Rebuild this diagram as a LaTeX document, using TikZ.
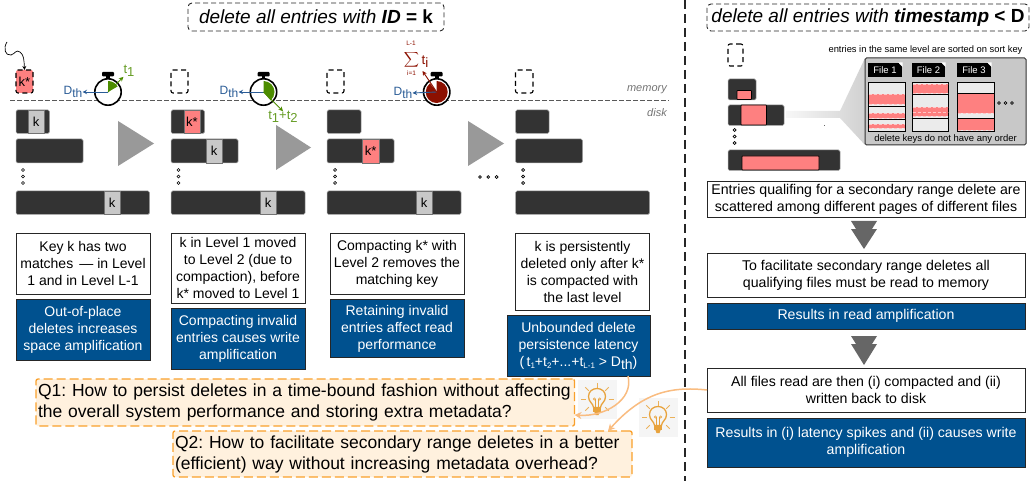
\documentclass[tikz,border=0pt]{standalone}
\usepackage{fontspec}
\setmainfont{Liberation Sans}
\usetikzlibrary{arrows.meta}
\definecolor{bluec}{HTML}{00518F}
\definecolor{redc}{HTML}{FE8080}
\definecolor{barc}{HTML}{333333}
\definecolor{keyc}{HTML}{C8C8C8}
\definecolor{greenc}{HTML}{4C8C00}
\definecolor{dredc}{HTML}{8C1000}
\definecolor{dblue}{HTML}{2A5C96}
\definecolor{orc}{HTML}{F9A02B}
\definecolor{orl}{HTML}{F9BC80}
\definecolor{qfill}{HTML}{FFF1DE}
\definecolor{bulbc}{HTML}{E8A33D}
\definecolor{triang}{HTML}{999999}
\definecolor{arrc}{HTML}{666666}
\tikzset{
 base/.style={inner sep=0pt,outer sep=0pt,align=center},
 txtbox/.style={base,draw=black!85,fill=white,line width=.8pt,font=\fontsize{14}{17}\selectfont},
 bluebox/.style={base,draw=black!85,fill=bluec,text=white,line width=.8pt,font=\fontsize{14}{17}\selectfont},
 barbox/.style={base,draw=black!35,fill=barc,line width=.5pt,rounded corners=1.5pt},
 keybox/.style={base,draw=black!55,fill=keyc,line width=.8pt,font=\fontsize{13}{15}\selectfont},
 redkey/.style={base,draw=black!55,fill=redc,line width=.8pt,font=\fontsize{13}{15}\selectfont},
 redin/.style={base,draw=black,fill=redc,line width=.7pt,rounded corners=.6pt},
 membox/.style={base,draw=black,dash pattern=on 5pt off 3.5pt,line width=1.1pt,rounded corners=2pt,font=\fontsize{13}{15}\selectfont},
 titlebox/.style={base,draw=black!85,dash pattern=on 5pt off 3pt,line width=.9pt,rounded corners=4pt,font=\fontsize{19}{22}\selectfont},
 qbox/.style={base,draw=orc,fill=qfill,dash pattern=on 9pt off 4pt,line width=1.3pt,rounded corners=2pt,align=left,font=\fontsize{17.5}{21}\selectfont},
 tri/.style={fill=triang,draw=none},
 ring/.style={draw=black,fill=white,line width=1.6pt},
 minidot/.style={draw=black,fill=white,line width=.7pt},
 glabel/.style={inner sep=0pt,text=greenc!85!white,font=\fontsize{13}{15}\selectfont},
 dlabel/.style={inner sep=0pt,text=dblue,font=\fontsize{12}{14}\selectfont},
 rlabel/.style={inner sep=0pt,text=dredc,font=\fontsize{13.5}{15}\selectfont},
 filebox/.style={base,draw=black,fill=black!8,line width=.9pt},
 filetag/.style={base,fill=black,text=white,font=\fontsize{9.5}{11}\selectfont},
 orarrow/.style={draw=orl,line width=1.5pt,-{Stealth[length=7pt,width=7pt]}},
 clockarrow/.style={line width=.9pt,-{Stealth[length=4.5pt,width=4.5pt]}},
}
\newcommand{\bx}[7]{%
 \pgfmathsetmacro\myw{#4-#2}\pgfmathsetmacro\myh{#5-#3}%
 \pgfmathsetmacro\myx{(#2+#4)/2}\pgfmathsetmacro\myy{(#3+#5)/2}%
 \node[#6,minimum width=\myw pt,minimum height=\myh pt] (#1) at (\myx,\myy) {#7};}
\newcommand{\bnd}[4]{%
 \fill[redc] (#1,#2) rectangle (#3,#4);
 \draw[white!55!redc,dash pattern=on 3pt off 2pt,line width=.5pt] (#1,#2) -- (#3,#2) (#1,#4) -- (#3,#4);}
\newcommand{\tridots}[2]{%
 \foreach \d in {0,6.5,13}{\draw[minidot] (#1,#2+\d) circle (1.5pt);}}
\newcommand{\hordots}[3]{%
 \foreach \d in {0,1,2}{\draw[minidot] (#1+\d*#3,#2) circle (1.4pt);}}
\newcommand{\clock}[2]{%
 \fill[black,rounded corners=1pt] (#1-6,72) rectangle (#1+6,76.5);
 \fill[black] (#1-1.8,76) rectangle (#1+1.8,80);
 \fill[black] (#1-9.5,83) -- (#1-8,81.5) -- (#1-6.5,83) -- cycle;
 \fill[black] (#1+9.5,83) -- (#1+8,81.5) -- (#1+6.5,83) -- cycle;
 \draw[ring] (#1,#2) circle (13.2pt);}
\newcommand{\bulb}[2]{%
 \fill[black!4] (#1-19.5,#2-19) rectangle (#1+19.5,#2+20);
 \begin{scope}[shift={(#1,#2)}]
  \foreach \a in {0,45,90,135,180,-45,-135}{\draw[bulbc!85!white,line width=1pt] (\a:11.5pt) -- (\a:16.5pt);}
  \draw[bulbc,line width=1.3pt] (-3.4,8.5) .. controls (-4,4) and (-8.5,3) .. (-8.5,-2.5) .. controls (-8.5,-7.5) and (-4.5,-10.5) .. (0,-10.5) .. controls (4.5,-10.5) and (8.5,-7.5) .. (8.5,-2.5) .. controls (8.5,3) and (4,4) .. (3.4,8.5) -- cycle;
  \draw[bulbc,line width=.6pt] (-1.5,8) -- (-1.5,0) arc[start angle=0,end angle=360,radius=1.1pt];
  \draw[bulbc,line width=.6pt] (1.5,8) -- (1.5,0) arc[start angle=180,end angle=-180,radius=1.1pt];
  \fill[bulbc] (-4,9) rectangle (4,13);
  \fill[bulbc] (-2.6,13) -- (2.6,13) -- (1.5,16) -- (-1.5,16) -- cycle;
 \end{scope}}
\newcommand{\Dth}{D\raisebox{-3.5pt}{th}}
\frenchspacing
\begin{document}
\begin{tikzpicture}[x=1pt,y=-1pt]
\useasboundingbox (0,0) rectangle (1033,481);
% titles
\bx{title1}{188}{3}{444}{31}{titlebox}{\itshape delete all entries with \textbf{ID} \upshape\textbf{= k}}
\bx{title2}{707}{4}{1029}{31}{titlebox}{\itshape delete all entries with \textbf{timestamp} \upshape\textbf{< D}}
% separators
\coordinate (sepT) at (685,0);
\coordinate (sepB) at (685,481);
\draw[black!85,line width=1.3pt,dash pattern=on 9pt off 5pt] (sepT) -- (sepB);
\coordinate (memL) at (10,101);
\coordinate (memR) at (669,101);
\draw[black!65,line width=1pt,dash pattern=on 4.5pt off 2.5pt] (memL) -- (memR);
\node[inner sep=0pt,anchor=east,text=black!55,font=\itshape\fontsize{11}{12}\selectfont] (memlab) at (667,90) {memory};
\node[inner sep=0pt,anchor=east,text=black!55,font=\itshape\fontsize{11}{12}\selectfont] (disklab) at (667,113) {disk};
% column 1
\bx{m1}{16}{70}{33}{93}{membox,fill=redc}{k*}
\coordinate (sq) at (7,42);
\draw[black,line width=.7pt,-{Stealth[length=4pt,width=4pt]}] (sq) .. controls (3,48) and (5,56) .. (11,55) .. controls (15,54) and (16,49) .. (20,52) .. controls (24,55) and (24,60) .. (m1.north);
\bx{a1}{16}{110}{49.5}{133.5}{barbox}{}
\bx{a2}{16}{139}{83}{163}{barbox}{}
\bx{a3}{16}{191}{149.5}{214.5}{barbox}{}
\bx{ka1}{28}{110}{44}{133.5}{keybox}{k}
\bx{ka3}{104}{191}{120}{214.5}{keybox}{k}
\tridots{23}{170}
\fill[tri] (118,121) -- (118,166) -- (154,143.5) -- cycle;
% column 2
\bx{m2}{171}{70}{188}{93}{membox}{}
\bx{b1}{171}{110}{204.5}{133.5}{barbox}{}
\bx{b2}{171}{139}{238}{163}{barbox}{}
\bx{b3}{171}{191}{305}{214.5}{barbox}{}
\bx{kb1}{184}{110}{200}{133.5}{redkey}{k*}
\bx{kb2}{206}{139}{222}{163}{keybox}{k}
\bx{kb3}{260}{191}{276}{214.5}{keybox}{k}
\tridots{178.5}{170}
\fill[tri] (276,125) -- (276,170) -- (311,147.5) -- cycle;
% column 3
\bx{m3}{327}{70}{344}{93}{membox}{}
\bx{c1}{327}{110}{361}{133.5}{barbox}{}
\bx{c2}{327}{139}{394}{163}{barbox}{}
\bx{c3}{327}{191}{461}{214.5}{barbox}{}
\bx{kc2}{362.5}{139}{379}{163}{redkey}{k*}
\bx{kc3}{416}{191}{432}{214.5}{keybox}{k}
\tridots{335}{170}
\fill[tri] (468,121) -- (468,166) -- (504,143.5) -- cycle;
\hordots{480}{177}{8.3}
% column 4
\bx{m4}{515.5}{70}{533}{93}{membox}{}
\bx{d1}{515.5}{110}{549}{133.5}{barbox}{}
\bx{d2}{515.5}{139}{582.5}{163}{barbox}{}
\bx{d3}{515.5}{191}{649.5}{214.5}{barbox}{}
\tridots{523}{170}
% clock 1
\clock{108}{92}
\coordinate (w1) at (108,92);
\fill[greenc] (w1) -- ++(0,-11) arc[start angle=90,end angle=30,radius=11pt] -- cycle;
\node[dlabel] (dl1) at (73,92) {\Dth};
\node[glabel] (t1) at (129,71) {t\raisebox{-3pt}{1}};
\draw[dblue,clockarrow] (w1) -- (dl1.east);
\draw[greenc,clockarrow] (w1) -- (t1.south west);
% clock 2
\clock{263.5}{92}
\coordinate (w2) at (263.5,92);
\fill[greenc] (w2) -- ++(0,-11) arc[start angle=90,end angle=-50,radius=11pt] -- cycle;
\node[dlabel] (dl2) at (229,92) {\Dth};
\node[glabel] (t2) at (283,117) {t\raisebox{-3pt}{1}+t\raisebox{-3pt}{2}};
\draw[dblue,clockarrow] (w2) -- (dl2.east);
\draw[greenc,clockarrow] (w2) -- (t2.north);
% clock 3
\clock{436.7}{92}
\coordinate (w3) at (436.7,92);
\fill[dredc] (w3) -- ++(0,-11) arc[start angle=90,end angle=-232,radius=11pt] -- cycle;
\node[dlabel] (dl3) at (403,93) {\Dth};
\node[rlabel,font=\fontsize{6.5}{8}\selectfont] (sumt) at (411,43.5) {L-1};
\node[rlabel,font=\fontsize{6.5}{8}\selectfont] (sumb) at (411.5,73) {i=1};
\node[rlabel,font=\fontsize{10}{12}\selectfont] (sums) at (411.5,59.5) {\scalebox{1.05}[1.05]{$\displaystyle\sum$}};
\node[rlabel] (sumi) at (425,62) {t\raisebox{-3pt}{i}};
\coordinate (sumtip) at (422.5,71);
\draw[dblue,clockarrow] (w3) -- (dl3.east);
\draw[dredc,clockarrow] (w3) -- (sumtip);
% text boxes
\bx{t1a}{16}{233.5}{150}{294}{txtbox}{Key k has two\\matches\, --- in Level\\1 and in Level L-1}
\bx{t1b}{16}{299.5}{150}{360.5}{bluebox}{Out-of-place\\deletes increases\\space amplification}
\bx{t2a}{171}{233.5}{305}{303}{txtbox}{k in Level 1 moved\\to Level 2 (due to\\compaction), before\\k* moved to Level 1}
\bx{t2b}{171}{308.5}{305}{369.5}{bluebox}{Compacting invalid\\entries causes write\\amplification}
\bx{t3a}{330}{233.5}{464}{294.5}{txtbox}{Compacting k* with\\Level 2 removes the\\matching key}
\bx{t3b}{330}{299.5}{464}{357.5}{bluebox}{Retaining invalid\\entries affect read\\performance}
\bx{t4a}{515.5}{233.5}{649.5}{310}{txtbox}{k is persistently\\deleted only after k*\\is compacted with\\the last level}
\bx{t4b}{507}{315.5}{650}{376}{bluebox}{Unbounded delete\\persistence latency\\(\,t\raisebox{-2pt}{\fontsize{8}{9}\selectfont 1}+t\raisebox{-2pt}{\fontsize{8}{9}\selectfont 2}+...+t\raisebox{-2pt}{\fontsize{8}{9}\selectfont L-1} > \Dth)}
% questions
\bx{q1}{36}{379}{574.5}{426}{qbox,text width=538.5pt}{\hspace*{2pt}Q1: How to persist deletes in a time-bound fashion without affecting\\\hspace*{2pt}the overall system performance and storing extra metadata?}
\bx{q2}{173}{431}{632}{477}{qbox,text width=459pt}{\hspace*{2pt}Q2: How to facilitate secondary range deletes in a better\\\hspace*{2pt}(efficient) way without increasing metadata overhead?}
\bulb{597}{399}
\bulb{658}{417}
% right column top
\bx{m5}{728}{44}{743}{66}{membox}{}
\bx{e1}{728}{79}{756}{100}{barbox}{}
\bx{e2}{728}{105}{784}{125.5}{barbox}{}
\bx{e3}{728}{150}{840}{170.5}{barbox}{}
\bx{re1}{737}{90.5}{751.5}{99.5}{redin}{}
\bx{re2}{741}{105}{766.5}{125}{redin}{}
\bx{re3}{742}{156}{819}{170}{redin}{}
\tridots{734.5}{130}
\shade[left color=black!3,right color=black!18] (786,111) -- (840,111) -- (865,58) -- (865,145) -- (840,118) -- (786,118) -- cycle;
\fill[black!60] (823.5,125.5) rectangle (824.5,126.5);
\node[inner sep=0pt,font=\fontsize{9.35}{11}\selectfont] (capt) at (925.5,50.5) {entries in the same level are sorted on sort key};
\bx{panel}{865}{58}{1026}{145}{base,draw=black!80,fill=keyc,line width=1pt,rounded corners=1.5pt}{}
\node[inner sep=0pt,font=\fontsize{9.45}{11}\selectfont] (panelt) at (945.5,139) {delete keys do not have any order};
% files
\bx{tag1}{868}{63}{902}{77}{filetag}{File 1}
\bx{tag2}{912}{63}{945}{77}{filetag}{File 2}
\bx{tag3}{957}{63}{991}{77}{filetag}{File 3}
\foreach \x in {902,945,991}{\fill[white] (\x-4,62.5) -- (\x+.5,62.5) -- (\x+.5,67) -- cycle;\draw[black,line width=.4pt] (\x-4,63) -- (\x-4,67) -- (\x,67);}
\bx{f1}{868}{82}{905}{131}{filebox}{}
\bx{f2}{912}{82}{948}{131}{filebox}{}
\bx{f3}{957}{82}{994}{131}{filebox}{}
\bnd{868.5}{94}{904.5}{104}
\bnd{868.5}{113}{904.5}{118}
\bnd{868.5}{124}{904.5}{128}
\draw[black,line width=.9pt] (868,106) -- (905,106) (868,119) -- (905,119);
\bnd{912.5}{84}{947.5}{93}
\bnd{912.5}{107}{947.5}{112}
\bnd{912.5}{112}{947.5}{116}
\draw[black,line width=.9pt] (912,118) -- (948,118) (912,94) -- (948,94);
\bnd{957.5}{93}{993.5}{113}
\bnd{957.5}{118}{993.5}{130}
\draw[black,line width=.9pt] (957,93) -- (994,93) (957,118) -- (994,118);
\hordots{999}{103}{6.5}
% right column text
\bx{ra}{707}{181}{1025}{217}{txtbox,font=\fontsize{14.15}{17}\selectfont}{Entries qualifing for a secondary range delete are\\scattered among different pages of different files}
\fill[arrc] (851,221) -- (877,221) -- (872,229) -- (877,229) -- (864,249) -- (851,229) -- (856,229) -- cycle;
\bx{rb}{707}{253}{1025}{297}{txtbox,font=\fontsize{14.15}{17}\selectfont}{To facilitate secondary range deletes all\\qualifying files must be read to memory}
\bx{rc}{707}{303}{1025}{329}{bluebox,font=\fontsize{14.15}{17}\selectfont}{Results in read amplification}
\fill[arrc] (851,336) -- (877,336) -- (872,344) -- (877,344) -- (864,365) -- (851,344) -- (856,344) -- cycle;
\bx{rd}{707}{368}{1025}{412}{txtbox,font=\fontsize{14.15}{17}\selectfont}{All files read are then (i) compacted and (ii)\\written back to disk}
\bx{rde}{707}{418}{1025}{467}{bluebox,font=\fontsize{14.15}{17}\selectfont}{Results in (i) latency spikes and (ii) causes write\\amplification}
% orange arrows
\draw[orarrow] ([xshift=-22pt]t4b.south east) .. controls +(6,24) and +(30,2) .. ([yshift=-12.5pt]q1.east);
\draw[orarrow] (rd.west) .. controls +(-37,-4) and +(34,-38) .. ([xshift=-24pt]q2.north east);
\end{tikzpicture}
\end{document}
